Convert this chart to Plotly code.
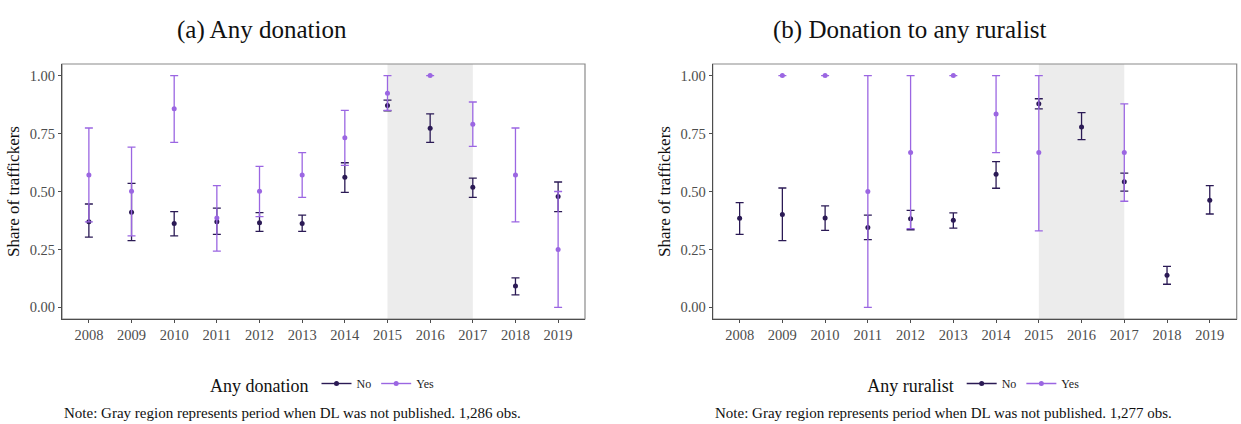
import plotly.graph_objects as go

years = list(range(2008, 2020))

# (a) Any donation: share of traffickers, point estimate with 95% CI
don_no_mean = [0.370, 0.411, 0.362, 0.370, 0.365, 0.362, 0.561, 0.871, 0.773, 0.518, 0.092, 0.478]
don_no_lo   = [0.303, 0.288, 0.309, 0.315, 0.328, 0.328, 0.496, 0.848, 0.712, 0.475, 0.054, 0.413]
don_no_hi   = [0.446, 0.535, 0.413, 0.428, 0.409, 0.398, 0.624, 0.894, 0.835, 0.558, 0.127, 0.541]
don_yes_mean = [0.571, 0.501, 0.857, 0.386, 0.501, 0.571, 0.732, 0.924, 1.000, 0.790, 0.571, 0.250]
don_yes_lo   = [0.369, 0.309, 0.712, 0.243, 0.392, 0.475, 0.613, 0.850, 1.000, 0.695, 0.369, 0.000]
don_yes_hi   = [0.774, 0.691, 1.000, 0.525, 0.608, 0.668, 0.850, 1.000, 1.000, 0.886, 0.774, 0.500]

# (b) Donation to any ruralist
rur_no_mean = [0.385, 0.401, 0.386, 0.345, 0.382, 0.376, 0.574, 0.878, 0.778, 0.542, 0.139, 0.462]
rur_no_lo   = [0.315, 0.288, 0.332, 0.292, 0.335, 0.342, 0.514, 0.856, 0.724, 0.502, 0.100, 0.403]
rur_no_hi   = [0.452, 0.515, 0.438, 0.398, 0.419, 0.408, 0.629, 0.900, 0.840, 0.579, 0.177, 0.525]
rur_yes_mean = [None, 1.000, 1.000, 0.500, 0.668, 1.000, 0.834, 0.668, None, 0.668, None, None]
rur_yes_lo   = [None, 1.000, 1.000, 0.000, 0.340, 1.000, 0.668, 0.330, None, 0.458, None, None]
rur_yes_hi   = [None, 1.000, 1.000, 1.000, 1.000, 1.000, 1.000, 1.000, None, 0.878, None, None]

y_ticks = [0.0, 0.25, 0.5, 0.75, 1.0]
y_tick_labels = ["0.00", "0.25", "0.50", "0.75", "1.00"]
gap_start, gap_end = 2015, 2017

titles = ["(a) Any donation", "(b) Donation to any ruralist"]
legend_titles = ["Any donation", "Any ruralist"]
notes = [
    "Note: Gray region represents period when DL was not published. 1,286 obs.",
    "Note: Gray region represents period when DL was not published. 1,277 obs.",
]

COL_NO = "#2b1a55"
COL_YES = "#9b66e2"
FONT = "Liberation Serif"

W, H = 1241, 424


def err_up(mean, hi):
    return [None if m is None else h - m for m, h in zip(mean, hi)]


def err_down(mean, lo):
    return [None if m is None else m - l for m, l in zip(mean, lo)]


fig = go.Figure()

panels = [
    (don_no_mean, don_no_lo, don_no_hi, don_yes_mean, don_yes_lo, don_yes_hi),
    (rur_no_mean, rur_no_lo, rur_no_hi, rur_yes_mean, rur_yes_lo, rur_yes_hi),
]

for i, (nm, nl, nh, ym, yl, yh) in enumerate(panels):
    xa = "x" if i == 0 else "x2"
    ya = "y" if i == 0 else "y2"
    leg = "legend" if i == 0 else "legend2"
    for mean, lo, hi, col, name in [(nm, nl, nh, COL_NO, "No"), (ym, yl, yh, COL_YES, "Yes")]:
        fig.add_trace(go.Scatter(
            x=years, y=mean, mode="markers", xaxis=xa, yaxis=ya,
            marker=dict(color=col, size=5),
            error_y=dict(type="data", symmetric=False,
                         array=err_up(mean, hi), arrayminus=err_down(mean, lo),
                         color=col, thickness=1.3, width=4),
            showlegend=False, hoverinfo="x+y",
        ))
        # legend key: short line with a dot
        fig.add_trace(go.Scatter(
            x=[None], y=[None], mode="lines+markers", xaxis=xa, yaxis=ya,
            name=name, legend=leg,
            line=dict(color=col, width=1.4), marker=dict(color=col, size=5),
        ))

y_dom = [1 - 319 / H, 1 - 64 / H]
x_doms = [[62 / W, 585 / W], [712.7 / W, 1236.7 / W]]

axis_common = dict(
    showgrid=False, zeroline=False, showline=True, linecolor="#4d4d4d", linewidth=1,
    ticks="outside", ticklen=3, tickcolor="#4d4d4d",
    tickfont=dict(family=FONT, size=14.5, color="#4d4d4d"),
)

for i in range(2):
    sfx = "" if i == 0 else "2"
    fig.layout["xaxis" + sfx] = dict(
        domain=x_doms[i], anchor="y" + sfx, range=[2007.37, 2019.63],
        tickvals=years, ticktext=[str(y) for y in years], **axis_common,
    )
    fig.layout["yaxis" + sfx] = dict(
        domain=y_dom, anchor="x" + sfx, range=[-0.05, 1.05],
        tickvals=y_ticks, ticktext=y_tick_labels,
        title=dict(text="Share of traffickers", font=dict(family=FONT, size=17, color="#111"), standoff=5),
        **axis_common,
    )
    # period without DL publication
    fig.add_shape(type="rect", xref="x" + sfx, yref="y" + sfx + " domain",
                  x0=gap_start, x1=gap_end, y0=0, y1=1,
                  fillcolor="#ececec", line=dict(width=0), layer="below")
    # panel border
    fig.add_shape(type="rect", xref="x" + sfx + " domain", yref="y" + sfx + " domain",
                  x0=0, x1=1, y0=0, y1=1, line=dict(color="#8a8a8a", width=1.2),
                  fillcolor="rgba(0,0,0,0)", layer="below")

title_x = [262 / W, 910 / W]
legend_x = [323.5 / W, 974.7 / W]

for i in range(2):
    fig.add_annotation(text=titles[i], xref="paper", yref="paper", x=title_x[i], y=1 - 30 / H,
                       xanchor="center", yanchor="middle", showarrow=False,
                       font=dict(family=FONT, size=25, color="#111"))
    # caption aligned with the left edge of its panel
    fig.add_annotation(text=notes[i], xref="paper", yref="paper", x=x_doms[i][0], y=1 - 413 / H,
                       xanchor="left", yanchor="middle", showarrow=False,
                       font=dict(family=FONT, size=15, color="#111"))

legend_common = dict(
    orientation="h", xanchor="center", yanchor="middle", y=1 - 386 / H,
    bgcolor="rgba(0,0,0,0)", itemwidth=30,
    font=dict(family=FONT, size=12, color="#222"),
)
fig.update_layout(
    width=W, height=H, margin=dict(l=0, r=0, t=0, b=0),
    paper_bgcolor="white", plot_bgcolor="white",
    font=dict(family=FONT),
    legend=dict(x=legend_x[0], title=dict(text=legend_titles[0], side="left",
                font=dict(family=FONT, size=18, color="#111")), **legend_common),
    legend2=dict(x=legend_x[1], title=dict(text=legend_titles[1], side="left",
                 font=dict(family=FONT, size=18, color="#111")), **legend_common),
)

fig.write_html("out.html")
